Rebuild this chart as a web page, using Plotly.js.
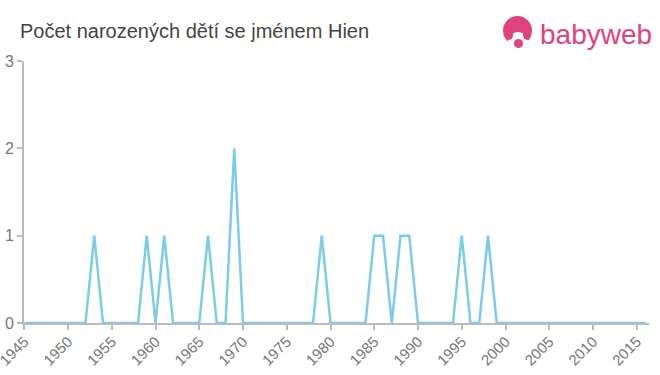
<!DOCTYPE html>
<html><head><meta charset="utf-8">
<script src="https://cdn.plot.ly/plotly-3.0.1.min.js"></script>
<style>body{margin:0;background:#fff}#c{width:660px;height:375px}</style>
</head><body><div id="c"></div>
<script>
const years = [];
for (let y = 1945; y <= 2016; y++) years.push(y);
const nonZero = {1953:1,1959:1,1961:1,1966:1,1969:2,1979:1,1985:1,1986:1,1988:1,1989:1,1995:1,1998:1};
const counts = years.map(y => nonZero[y] || 0);
const tickVals = [1945,1950,1955,1960,1965,1970,1975,1980,1985,1990,1995,2000,2005,2010,2015];
const tickText = tickVals.map(String);

const px = x => (x - 24) / 625;
const py = y => (323 - y) / 262;
const pink = '#e0427e';

Plotly.newPlot('c', [{
  x: years, y: counts, type: 'scatter', mode: 'lines',
  line: {color: '#7accea', width: 2.5}, hoverinfo: 'skip'
}], {
  width: 660, height: 375,
  margin: {l: 24, r: 11, t: 61, b: 52},
  paper_bgcolor: '#fff', plot_bgcolor: '#fff',
  showlegend: false,
  title: {text: 'Počet narozených dětí se jménem Hien', x: 20/660, xanchor: 'left', y: 1-31/375, yanchor: 'middle',
          font: {family: 'Liberation Sans, Arial, sans-serif', size: 20, color: '#444'}},
  xaxis: {range: [1944.97, 2016.4], tickmode: 'array', tickvals: tickVals, ticktext: tickText,
          tickangle: -45, ticks: 'outside', ticklen: 5, tickcolor: '#bbb', tickwidth: 2,
          ticklabeloverflow: 'allow', ticklabelstandoff: -3,
          showline: true, linecolor: '#bbb', linewidth: 2, showgrid: false, zeroline: false,
          tickfont: {family: 'Liberation Sans, Arial, sans-serif', size: 15, color: '#777'}},
  yaxis: {range: [0, 3], tickvals: [0,1,2,3], ticks: 'outside', ticklen: 5, tickcolor: '#bbb', tickwidth: 2,
          showline: true, linecolor: '#bbb', linewidth: 2, showgrid: false, zeroline: false,
          tickfont: {family: 'Liberation Sans, Arial, sans-serif', size: 16, color: '#777'}},
  shapes: [
    {type: 'circle', xref: 'paper', yref: 'paper', x0: px(503), x1: px(532), y0: py(45), y1: py(16),
     fillcolor: pink, line: {width: 0}, layer: 'above'},
    {type: 'circle', xref: 'paper', yref: 'paper', x0: px(508), x1: px(528), y0: py(50), y1: py(32),
     fillcolor: '#fff', line: {width: 0}, layer: 'above'},
    {type: 'circle', xref: 'paper', yref: 'paper', x0: px(505), x1: px(513), y0: py(40), y1: py(30),
     fillcolor: pink, line: {width: 0}, layer: 'above'},
    {type: 'circle', xref: 'paper', yref: 'paper', x0: px(523), x1: px(531), y0: py(40), y1: py(30),
     fillcolor: pink, line: {width: 0}, layer: 'above'},
    {type: 'circle', xref: 'paper', yref: 'paper', x0: px(514), x1: px(523), y0: py(48), y1: py(39),
     fillcolor: pink, line: {width: 0}, layer: 'above'}
  ],
  annotations: [
    {text: 'babyweb', xref: 'paper', yref: 'paper', x: px(538), y: py(34), xanchor: 'left', yanchor: 'middle',
     showarrow: false, font: {family: 'Liberation Sans, Arial, sans-serif', size: 28, color: pink}}
  ]
}, {displayModeBar: false, staticPlot: true});
</script></body></html>
